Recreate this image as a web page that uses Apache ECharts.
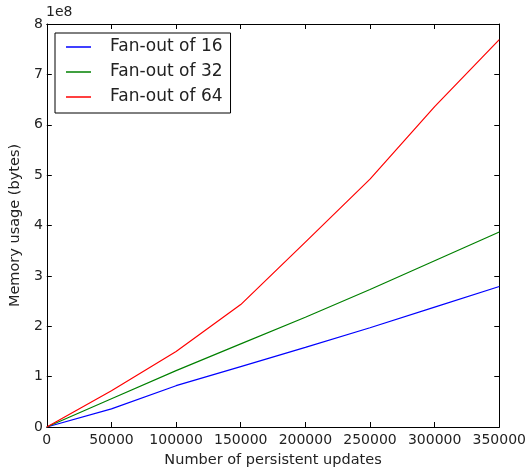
<!DOCTYPE html>
<html>
<head>
<meta charset="utf-8">
<script src="https://cdn.jsdelivr.net/npm/echarts@6/dist/echarts.min.js"></script>
<style>
    html, body { margin: 0; padding: 0; background: #fff; }
    #chart { width: 529px; height: 473px; }
</style>
</head>
<body>
<div id="chart"></div>
<script>
    // updates on the x axis
    var updates = [0, 50000, 100000, 150000, 200000, 250000, 300000, 350000];
    // memory usage, in units of 1e8 bytes
    var fanout16 = [0, 0.36, 0.82, 1.20, 1.58, 1.97, 2.38, 2.79];
    var fanout32 = [0, 0.56, 1.12, 1.65, 2.18, 2.73, 3.30, 3.87];
    var fanout64 = [0, 0.72, 1.50, 2.43, 3.67, 4.92, 6.36, 7.69];
    var seriesNames = ['Fan-out of 16', 'Fan-out of 32', 'Fan-out of 64'];
    var seriesColors = ['#0000ff', '#008000', '#ff0000'];

    var font = 'DejaVu Sans';
    var textColor = '#222';

    function pairs(ys){
        var out = [];
        for(var i = 0; i < updates.length; i++){
            out.push([updates[i], ys[i]]);
        }
        return out;
    }

    var allData = [fanout16, fanout32, fanout64];
    var series = [];
    for(var k = 0; k < allData.length; k++){
        series.push({
            name: seriesNames[k],
            type: 'line',
            data: pairs(allData[k]),
            showSymbol: false,
            symbol: 'none',
            lineStyle: { color: seriesColors[k], width: 1.2 },
            itemStyle: { color: seriesColors[k] },
            animation: false
        });
    }

    var chart = echarts.init(document.getElementById('chart'));
    var option = {
        backgroundColor: '#fff',
        animation: false,
        grid: { left: 45, right: 27, top: 24, bottom: 44 },
        legend: {
            orient: 'vertical',
            left: 55,
            top: 33,
            data: seriesNames,
            icon: 'rect',
            itemWidth: 25,
            itemHeight: 1.5,
            itemGap: 5,
            padding: [4, 8, 6, 11],
            borderColor: '#000',
            borderWidth: 1,
            borderRadius: 0,
            textStyle: {
                fontFamily: font,
                fontSize: 17,
                color: textColor,
                lineHeight: 20,
                padding: [0, 0, 0, 14]
            }
        },
        xAxis: [{
            type: 'value',
            min: 0,
            max: 350000,
            interval: 50000,
            name: 'Number of persistent updates',
            nameLocation: 'middle',
            nameGap: 26,
            nameTextStyle: { fontFamily: font, fontSize: 14.5, color: textColor },
            axisLine: { show: true, onZero: false, lineStyle: { color: '#000', width: 1 } },
            axisTick: { show: true, inside: true, length: 5, lineStyle: { color: '#000' } },
            axisLabel: {
                fontFamily: font, fontSize: 14, color: textColor, margin: 6,
                formatter: function(v){ return String(v); }
            },
            splitLine: { show: false }
        }, {
            type: 'value',
            position: 'top',
            min: 0,
            max: 350000,
            interval: 50000,
            axisLine: { show: true, onZero: false, lineStyle: { color: '#000', width: 1 } },
            axisTick: { show: true, inside: true, length: 5, lineStyle: { color: '#000' } },
            axisLabel: { show: false },
            splitLine: { show: false }
        }],
        yAxis: [{
            type: 'value',
            min: 0,
            max: 8,
            interval: 1,
            name: 'Memory usage (bytes)',
            nameLocation: 'middle',
            nameGap: 14,
            nameTextStyle: { fontFamily: font, fontSize: 14.5, color: textColor },
            axisLine: { show: true, onZero: false, lineStyle: { color: '#000', width: 1 } },
            axisTick: { show: true, inside: true, length: 5, lineStyle: { color: '#000' } },
            axisLabel: { fontFamily: font, fontSize: 14, color: textColor, margin: 4 },
            splitLine: { show: false }
        }, {
            type: 'value',
            position: 'right',
            min: 0,
            max: 8,
            interval: 1,
            axisLine: { show: true, onZero: false, lineStyle: { color: '#000', width: 1 } },
            axisTick: { show: true, inside: true, length: 5, lineStyle: { color: '#000' } },
            axisLabel: { show: false },
            splitLine: { show: false }
        }],
        graphic: [{
            type: 'text',
            left: 46,
            top: 5,
            style: { text: '1e8', fontFamily: font, fontSize: 14, fill: textColor }
        }],
        series: series
    };
    chart.setOption(option);
</script>
</body>
</html>
